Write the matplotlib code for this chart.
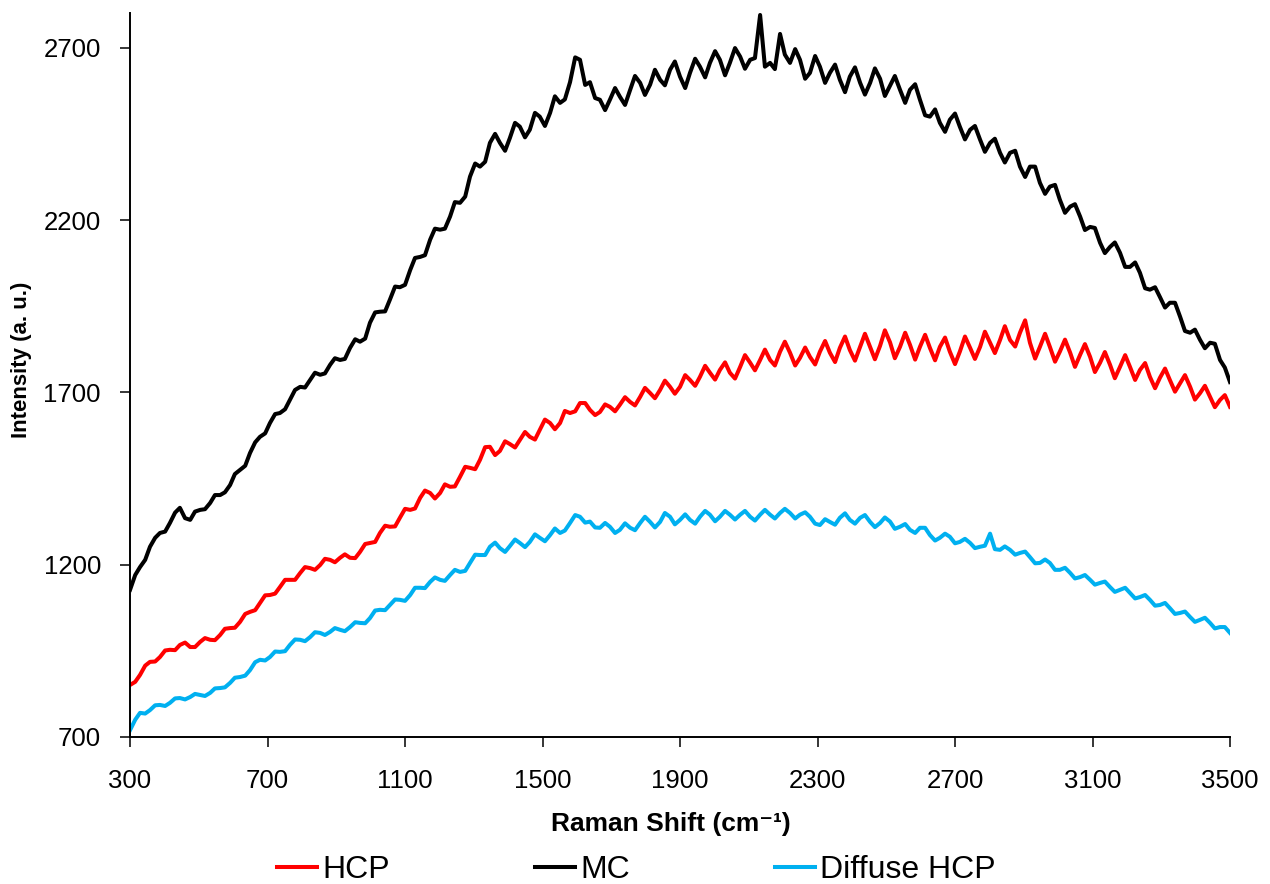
import matplotlib
matplotlib.use("Agg")
from matplotlib import pyplot as plt

plt.rcParams['font.family'] = ['Liberation Sans', 'DejaVu Sans']

# Raman shift (cm-1), every ~15 cm-1
raman_shift = [300, 315, 329, 344, 358, 373, 387, 402, 416, 431,
               445, 460, 475, 489, 504, 518, 533, 547, 562, 576,
               591, 605, 620, 635, 649, 664, 678, 693, 707, 722,
               736, 751, 765, 780, 795, 809, 824, 838, 853, 867,
               882, 896, 911, 925, 940, 955, 969, 984, 998, 1013,
               1027, 1042, 1056, 1071, 1085, 1100, 1115, 1129, 1144, 1158,
               1173, 1187, 1202, 1216, 1231, 1245, 1260, 1275, 1289, 1304,
               1318, 1333, 1347, 1362, 1376, 1391, 1405, 1420, 1434, 1449,
               1463, 1478, 1492, 1507, 1522, 1536, 1551, 1565, 1580, 1595,
               1609, 1624, 1638, 1653, 1667, 1682, 1696, 1711, 1725, 1740,
               1755, 1769, 1784, 1798, 1813, 1827, 1842, 1856, 1871, 1885,
               1900, 1915, 1929, 1944, 1958, 1973, 1987, 2002, 2016, 2031,
               2045, 2060, 2075, 2089, 2104, 2118, 2133, 2147, 2162, 2176,
               2191, 2205, 2220, 2235, 2249, 2264, 2278, 2293, 2307, 2322,
               2336, 2351, 2365, 2380, 2394, 2409, 2424, 2438, 2453, 2467,
               2482, 2496, 2511, 2525, 2540, 2555, 2569, 2584, 2598, 2613,
               2627, 2642, 2656, 2671, 2685, 2700, 2714, 2729, 2744, 2758,
               2773, 2787, 2802, 2816, 2831, 2845, 2860, 2875, 2889, 2904,
               2918, 2933, 2947, 2962, 2976, 2991, 3005, 3020, 3035, 3049,
               3064, 3078, 3093, 3107, 3122, 3136, 3151, 3165, 3180, 3195,
               3209, 3224, 3238, 3253, 3267, 3282, 3296, 3311, 3325, 3340,
               3355, 3369, 3384, 3398, 3413, 3427, 3442, 3456, 3471, 3485,
               3500]

hcp = [851, 860, 880, 907, 918, 919, 932, 951, 953, 952,
       967, 974, 961, 961, 976, 987, 982, 981, 996, 1014,
       1016, 1017, 1034, 1057, 1063, 1068, 1089, 1111, 1112, 1116,
       1135, 1156, 1156, 1156, 1176, 1193, 1190, 1185, 1199, 1217,
       1214, 1207, 1220, 1230, 1220, 1219, 1237, 1260, 1263, 1266,
       1292, 1313, 1310, 1311, 1336, 1362, 1359, 1363, 1394, 1415,
       1408, 1392, 1408, 1433, 1426, 1427, 1455, 1484, 1481, 1477,
       1504, 1541, 1542, 1518, 1530, 1558, 1550, 1540, 1562, 1585,
       1571, 1563, 1591, 1621, 1611, 1593, 1611, 1646, 1640, 1645,
       1669, 1669, 1649, 1634, 1643, 1665, 1658, 1645, 1664, 1686,
       1672, 1662, 1687, 1713, 1698, 1683, 1707, 1734, 1716, 1696,
       1716, 1750, 1736, 1719, 1745, 1777, 1757, 1737, 1765, 1787,
       1757, 1740, 1774, 1808, 1786, 1764, 1794, 1824, 1794, 1778,
       1818, 1847, 1815, 1778, 1800, 1830, 1803, 1781, 1818, 1849,
       1815, 1788, 1829, 1862, 1823, 1792, 1832, 1870, 1832, 1796,
       1835, 1880, 1845, 1799, 1832, 1873, 1838, 1795, 1832, 1867,
       1829, 1793, 1832, 1859, 1818, 1782, 1818, 1862, 1829, 1797,
       1832, 1876, 1844, 1814, 1852, 1892, 1852, 1833, 1873, 1909,
       1844, 1798, 1832, 1870, 1832, 1789, 1818, 1853, 1815, 1774,
       1809, 1840, 1803, 1759, 1786, 1817, 1780, 1741, 1774, 1808,
       1774, 1736, 1765, 1785, 1745, 1712, 1742, 1769, 1736, 1702,
       1727, 1750, 1716, 1679, 1698, 1719, 1687, 1657, 1678, 1692,
       1658]

mc = [1127, 1170, 1193, 1214, 1252, 1278, 1292, 1296, 1321, 1351,
      1365, 1335, 1330, 1354, 1359, 1361, 1379, 1402, 1402, 1410,
      1431, 1463, 1475, 1487, 1524, 1555, 1571, 1581, 1611, 1637,
      1640, 1651, 1678, 1707, 1716, 1714, 1736, 1757, 1751, 1755,
      1780, 1799, 1794, 1797, 1829, 1854, 1847, 1856, 1902, 1932,
      1934, 1935, 1969, 2007, 2005, 2012, 2055, 2090, 2093, 2098,
      2143, 2175, 2172, 2175, 2210, 2252, 2250, 2268, 2326, 2364,
      2355, 2369, 2424, 2450, 2424, 2401, 2438, 2482, 2471, 2440,
      2462, 2511, 2500, 2473, 2511, 2559, 2540, 2550, 2600, 2672,
      2665, 2592, 2600, 2554, 2549, 2519, 2549, 2583, 2558, 2534,
      2578, 2618, 2598, 2563, 2593, 2636, 2607, 2591, 2636, 2660,
      2616, 2583, 2627, 2668, 2645, 2614, 2656, 2690, 2665, 2620,
      2656, 2699, 2674, 2639, 2665, 2670, 2795, 2645, 2656, 2638,
      2740, 2680, 2656, 2696, 2665, 2610, 2627, 2676, 2645, 2598,
      2627, 2651, 2607, 2571, 2616, 2643, 2598, 2564, 2598, 2640,
      2610, 2560, 2590, 2618, 2578, 2540, 2578, 2594, 2549, 2504,
      2500, 2521, 2482, 2456, 2491, 2509, 2471, 2434, 2462, 2473,
      2433, 2398, 2424, 2436, 2395, 2367, 2395, 2401, 2355, 2325,
      2355, 2355, 2308, 2276, 2297, 2302, 2259, 2221, 2239, 2246,
      2210, 2171, 2180, 2177, 2134, 2104, 2122, 2135, 2105, 2064,
      2064, 2077, 2047, 2002, 1998, 2005, 1977, 1946, 1960, 1960,
      1919, 1878, 1873, 1882, 1852, 1828, 1844, 1841, 1794, 1772,
      1730]

diffuse_hcp = [720, 750, 770, 768, 778, 792, 793, 790, 799, 812,
               813, 809, 816, 825, 822, 819, 828, 841, 842, 844,
               857, 872, 874, 878, 894, 917, 924, 922, 932, 948,
               947, 949, 967, 983, 982, 978, 990, 1004, 1002, 996,
               1005, 1016, 1011, 1007, 1019, 1033, 1031, 1030, 1045, 1067,
               1069, 1068, 1083, 1099, 1098, 1095, 1112, 1133, 1133, 1132,
               1150, 1163, 1156, 1153, 1170, 1185, 1179, 1182, 1205, 1229,
               1228, 1228, 1252, 1264, 1248, 1237, 1254, 1273, 1263, 1251,
               1266, 1288, 1278, 1268, 1286, 1305, 1292, 1299, 1321, 1344,
               1339, 1322, 1325, 1308, 1307, 1321, 1310, 1292, 1301, 1320,
               1307, 1300, 1321, 1339, 1324, 1308, 1324, 1350, 1339, 1317,
               1330, 1346, 1330, 1319, 1339, 1356, 1345, 1326, 1339, 1356,
               1345, 1331, 1345, 1356, 1339, 1328, 1345, 1359, 1345, 1334,
               1350, 1362, 1350, 1334, 1345, 1352, 1339, 1319, 1315, 1332,
               1324, 1316, 1336, 1349, 1330, 1319, 1336, 1344, 1324, 1309,
               1321, 1337, 1325, 1304, 1310, 1318, 1301, 1292, 1307, 1307,
               1286, 1270, 1278, 1290, 1281, 1262, 1266, 1275, 1263, 1248,
               1252, 1255, 1290, 1245, 1243, 1253, 1243, 1229, 1234, 1238,
               1222, 1204, 1205, 1215, 1205, 1185, 1185, 1191, 1176, 1160,
               1164, 1170, 1156, 1142, 1147, 1151, 1135, 1121, 1127, 1133,
               1118, 1102, 1106, 1112, 1098, 1081, 1083, 1089, 1074, 1057,
               1060, 1064, 1048, 1034, 1040, 1046, 1031, 1015, 1019, 1019,
               1002]

series_labels = ["HCP", "MC", "Diffuse HCP"]
x_ticks = [300, 700, 1100, 1500, 1900, 2300, 2700, 3100, 3500]
y_ticks = [700, 1200, 1700, 2200, 2700]

fig = plt.figure(figsize=(12.7, 8.84), dpi=100)
ax = fig.add_axes([0.1024, 0.1663, 0.8661, 0.8187])

colors = ['#FF0000', '#000000', '#00B0F0']
lines = []
for ys, lab, c in zip([hcp, mc, diffuse_hcp], series_labels, colors):
    ln, = ax.plot(raman_shift, ys, color=c, linewidth=2.9, label=lab)
    lines.append(ln)

ax.set_xlim(300, 3500)
ax.set_ylim(700, 2800)
ax.set_xticks(x_ticks)
ax.set_yticks(y_ticks)

ax.spines['top'].set_visible(False)
ax.spines['right'].set_visible(False)
for s in ['left', 'bottom']:
    ax.spines[s].set_linewidth(1.4)
ax.tick_params(axis='both', direction='out', length=7, width=1.1, labelsize=18.5)
ax.tick_params(axis='x', pad=16)
ax.tick_params(axis='y', pad=14)

ax.set_xlabel("Raman Shift (cm⁻¹)", fontsize=19, fontweight='bold')
ax.set_ylabel("Intensity (a. u.)", fontsize=16, fontweight='bold')
ax.xaxis.set_label_coords(0.492, -0.1036)
ax.yaxis.set_label_coords(-0.089, 0.521)

fig.legend(handles=lines, labels=series_labels, ncol=3, frameon=False, fontsize=23,
           loc='center', bbox_to_anchor=(0.501, 0.0158), handlelength=1.25,
           handletextpad=0.16, columnspacing=4.55, borderaxespad=0, borderpad=0)

fig.savefig("out.png", dpi=100)
